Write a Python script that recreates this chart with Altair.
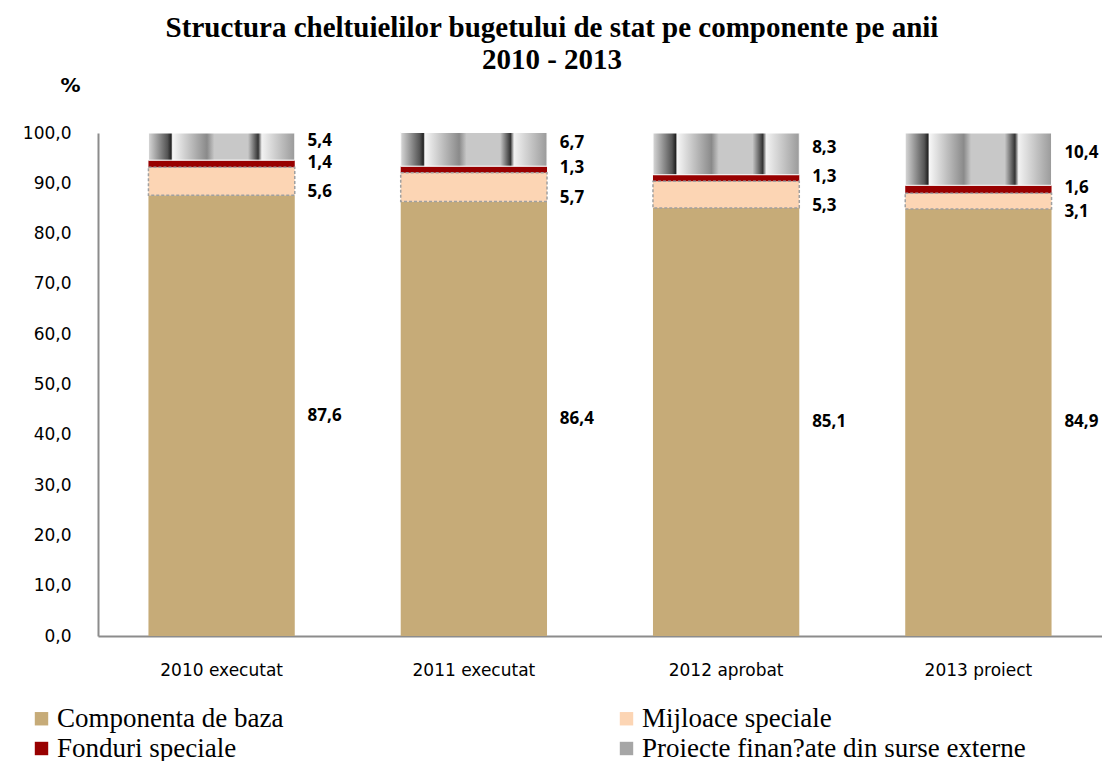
import altair as alt
import pandas as pd

years = ["2010 executat", "2011 executat", "2012 aprobat", "2013 proiect"]
series = ["Componenta de baza", "Mijloace speciale", "Fonduri speciale",
          "Proiecte finan?ate din surse externe"]
componenta = [87.6, 86.4, 85.1, 84.9]
mijloace = [5.6, 5.7, 5.3, 3.1]
fonduri = [1.4, 1.3, 1.3, 1.6]
proiecte = [5.4, 6.7, 8.3, 10.4]
colors = ["#C6AB78", "#FCD5B4", "#980000", "#A6A6A6"]
y_ticks = [0, 10, 20, 30, 40, 50, 60, 70, 80, 90, 100]

values_by_series = [componenta, mijloace, fonduri, proiecte]
rows = []
for si, (s, vals) in enumerate(zip(series, values_by_series)):
    for yi, y in enumerate(years):
        rows.append({"year": y, "series": s, "order": si, "value": vals[yi]})
df = pd.DataFrame(rows)

base = alt.Chart(df).transform_stack(
    stack="value", groupby=["year"], as_=["y0", "y1"],
    sort=[alt.SortField("order", order="ascending")]
).transform_calculate(
    mid="(datum.y0 + datum.y1) / 2",
    label="replace(format(datum.value, '.1f'), '.', ',')"
)

x_enc = alt.X("year:N", sort=years,
              scale=alt.Scale(paddingInner=0.42, paddingOuter=0.2),
              axis=alt.Axis(title=None, labelAngle=0, ticks=False,
                            domainColor="#8C8C8C", domainWidth=2,
                            labelFont="DejaVu Sans", labelFontSize=17,
                            labelColor="#000000", labelPadding=26))
y_scale = alt.Scale(domain=[0, 100], nice=False, zero=True)

bars = base.mark_bar().encode(
    x=x_enc,
    y=alt.Y("y0:Q", scale=y_scale,
            axis=alt.Axis(values=y_ticks, grid=False, ticks=False,
                          labelExpr="replace(format(datum.value, '.1f'), '.', ',')",
                          domainColor="#8C8C8C", domainWidth=2,
                          labelFont="DejaVu Sans", labelFontSize=17,
                          labelColor="#000000", labelPadding=27,
                          title="%", titleAngle=0, titleX=-28, titleY=-48,
                          titleAlign="center", titleBaseline="middle",
                          titleFont="DejaVu Sans", titleFontSize=20,
                          titleFontWeight="bold", titleColor="#000000")),
    y2="y1:Q",
    color=alt.Color("series:N", scale=alt.Scale(domain=series, range=colors),
                    legend=alt.Legend(title=None, orient="none", legendX=-70,
                                      legendY=572, columns=2, direction="horizontal",
                                      columnPadding=329,
                                      rowPadding=2, symbolType="square",
                                      symbolSize=180, symbolStrokeWidth=0,
                                      labelFont="Liberation Serif",
                                      labelFontSize=27, labelColor="#000000",
                                      labelLimit=0, labelOffset=2, padding=0))
)

mij_border = base.transform_filter(
    alt.datum.series == series[1]
).mark_bar(filled=False, stroke="#A0A0A0", strokeWidth=1.5,
           strokeDash=[3, 2]).encode(x=alt.X("year:N", sort=years),
                                     y="y0:Q", y2="y1:Q")

grad = alt.Gradient(
    gradient="linear", x1=0, x2=1, y1=0, y2=0,
    stops=[
        alt.GradientStop(offset=0.0, color="#D8D8D8"),
        alt.GradientStop(offset=0.13, color="#555555"),
        alt.GradientStop(offset=0.155, color="#222222"),
        alt.GradientStop(offset=0.165, color="#F7F7F7"),
        alt.GradientStop(offset=0.40, color="#8A8A8A"),
        alt.GradientStop(offset=0.45, color="#C8C8C8"),
        alt.GradientStop(offset=0.68, color="#C8C8C8"),
        alt.GradientStop(offset=0.75, color="#333333"),
        alt.GradientStop(offset=0.775, color="#F2F2F2"),
        alt.GradientStop(offset=1.0, color="#9A9A9A"),
    ])
proj = base.transform_filter(
    alt.datum.series == series[3]
).mark_bar(fill=grad, stroke="#FFFFFF", strokeWidth=1).encode(
    x=alt.X("year:N", sort=years), y="y0:Q", y2="y1:Q")

label_dy = [0, 11, -1, -6]
texts = []
for s, dy in zip(series, label_dy):
    texts.append(base.transform_filter(alt.datum.series == s).mark_text(
        align="left", baseline="middle", dx=86, dy=dy,
        font="Open Sans", fontSize=17, fontWeight="bold", color="#000000"
    ).encode(x=alt.X("year:N", sort=years), y="mid:Q", text="label:N"))

chart = alt.layer(bars, mij_border, proj, *texts).properties(
    width=1004, height=503,
    title=alt.TitleParams(
        text=["Structura cheltuielilor  bugetului de stat pe componente pe anii",
              "2010 - 2013"],
        font="Liberation Serif", fontSize=29, fontWeight="bold",
        color="#000000", anchor="middle", frame="group", dx=-48,
        lineHeight=32, offset=0),
    autosize=alt.AutoSizeParams(type="none"),
    padding={"left": 90, "top": 125, "right": 0, "bottom": 125},
).configure_view(stroke=None)

chart.save("out.html", embed_options={"renderer": "svg", "actions": False})
